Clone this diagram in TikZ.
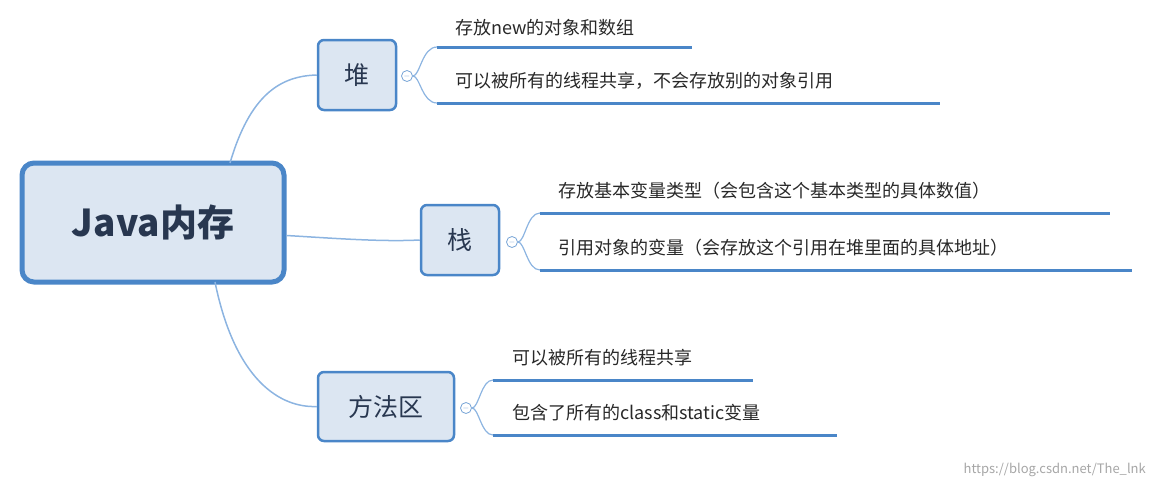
\documentclass[tikz,border=0pt]{standalone}
\usepackage{fontspec}
\setmainfont{Noto Sans CJK SC}
\begin{document}
\begin{tikzpicture}[x=1pt,y=-1pt,
  topic/.style={draw={rgb,255:red,74;green,134;blue,200},fill={rgb,255:red,220;green,230;blue,242},rounded corners=6pt,line width=2.5pt,inner sep=0pt,font=\fontsize{25}{25}\selectfont,text={rgb,255:red,40;green,55;blue,80}},
  conn/.style={draw={rgb,255:red,140;green,180;blue,225},line width=1.5pt},
  uline/.style={draw={rgb,255:red,74;green,134;blue,200},line width=3pt},
  leaf/.style={anchor=west,inner sep=0pt,font=\fontsize{18}{18}\selectfont,text={rgb,255:red,40;green,40;blue,40}},
  tog/.style={circle,draw={rgb,255:red,120;green,165;blue,215},line width=0.8pt,minimum size=11pt,inner sep=0pt,fill=white,text={rgb,255:red,120;green,165;blue,215},font=\fontsize{8}{8}\selectfont}]
\useasboundingbox (0,0) rectangle (1154,488);
\node[topic,line width=5pt,rounded corners=12pt,minimum width=262pt,minimum height=119pt,font=\fontsize{37}{37}\selectfont\bfseries] (root) at (153,222.5) {Java内存};
\node[topic,minimum width=78pt,minimum height=70pt] (heap) at (357,75) {堆};
\node[topic,minimum width=78pt,minimum height=70pt] (stack) at (460,240) {栈};
\node[topic,minimum width=136pt,minimum height=69pt] (method) at (386,406.5) {方法区};
\draw[conn] (230,163) .. controls (250,95) and (280,76) .. (heap.west);
\draw[conn] (root.east) ++(0,13) coordinate (r1) (r1) .. controls (330,238) and (380,242) .. (stack.west);
\draw[conn] (215,282) .. controls (235,380) and (280,408) .. (method.west);
\node[tog] (t1) at (407,76) {$-$};
\coordinate (h1) at (437,47); \coordinate (h2) at (437,103);
\draw[conn,line width=1.2pt] (t1.east) .. controls (420,76) and (422,47) .. (h1);
\draw[conn,line width=1.2pt] (t1.east) .. controls (420,76) and (422,103) .. (h2);
\coordinate (h1e) at (692,47); \coordinate (h2e) at (940,103);
\draw[uline] (h1) -- (h1e); \draw[uline] (h2) -- (h2e);
\node[leaf] (l1) at (455,28) {存放new的对象和数组};
\node[leaf] (l2) at (455,81) {可以被所有的线程共享，不会存放别的对象引用};
\node[tog] (t2) at (512,242) {$-$};
\coordinate (s1) at (540,213); \coordinate (s2) at (540,270);
\draw[conn,line width=1.2pt] (t2.east) .. controls (525,242) and (527,213) .. (s1);
\draw[conn,line width=1.2pt] (t2.east) .. controls (525,242) and (527,270) .. (s2);
\coordinate (s1e) at (1110,213); \coordinate (s2e) at (1132,270);
\draw[uline] (s1) -- (s1e); \draw[uline] (s2) -- (s2e);
\node[leaf] (l3) at (558,191) {存放基本变量类型（会包含这个基本类型的具体数值）};
\node[leaf] (l4) at (558,248) {引用对象的变量（会存放这个引用在堆里面的具体地址）};
\node[tog] (t3) at (466,408) {$-$};
\coordinate (m1) at (493,380); \coordinate (m2) at (493,435);
\draw[conn,line width=1.2pt] (t3.east) .. controls (479,408) and (481,380) .. (m1);
\draw[conn,line width=1.2pt] (t3.east) .. controls (479,408) and (481,435) .. (m2);
\coordinate (m1e) at (753,380); \coordinate (m2e) at (837,435);
\draw[uline] (m1) -- (m1e); \draw[uline] (m2) -- (m2e);
\node[leaf] (l5) at (512,358) {可以被所有的线程共享};
\node[leaf] (l6) at (512,413) {包含了所有的class和static变量};
\node[anchor=east,inner sep=0pt,font=\fontsize{13}{13}\selectfont,text=gray!70] (wm) at (1146,470) {https://blog.csdn.net/The\_lnk};
\end{tikzpicture}
\end{document}
